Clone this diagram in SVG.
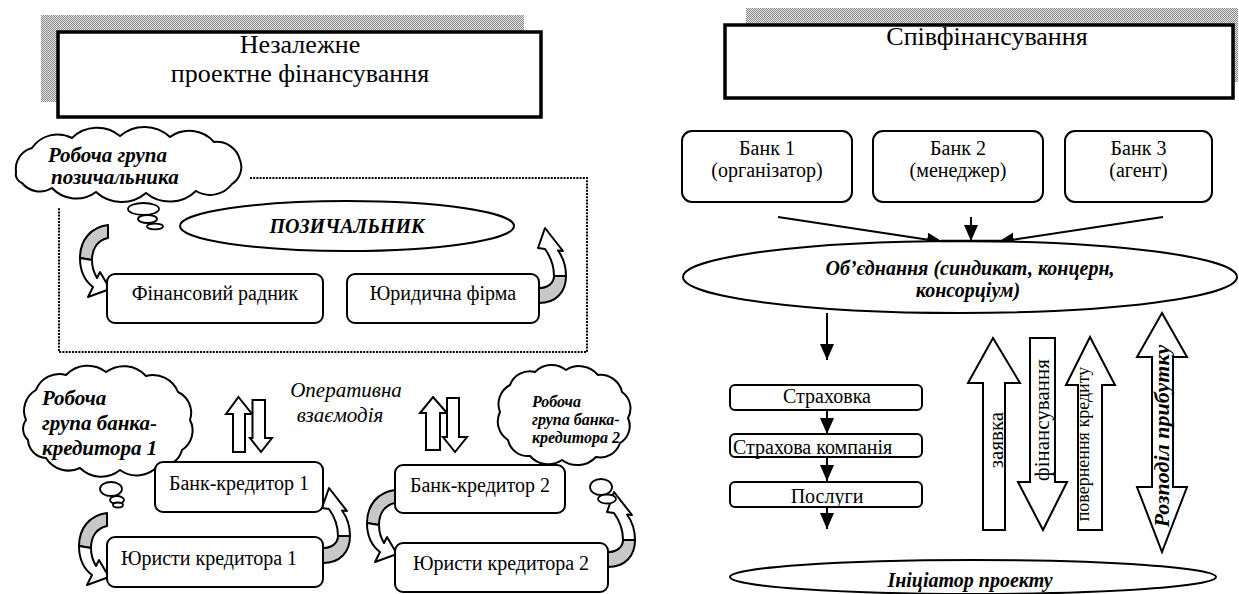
<svg xmlns="http://www.w3.org/2000/svg" width="1239" height="594" viewBox="0 0 1239 594" font-family="'Liberation Serif', 'DejaVu Serif', serif">
<defs>
<pattern id="stip" width="2" height="2" patternUnits="userSpaceOnUse"><rect width="2" height="2" fill="#e2e2e2"/><rect width="1" height="1" fill="#8c8c8c"/><rect x="1" y="1" width="1" height="1" fill="#8c8c8c"/></pattern>
<marker id="ah" viewBox="0 0 16 16" refX="16" refY="8" markerWidth="16" markerHeight="16" markerUnits="userSpaceOnUse" orient="auto"><path d="M0,1 L16,8 L0,15 Z" fill="#000"/></marker>
<g id="curvR">
<path d="M0,0 C-17,2 -28,15 -28,33 L-16,35 C-16,23 -10,15 0,13 Z" fill="#c8c8c8" stroke="#000" stroke-width="2" stroke-linejoin="round"/>
<path d="M-28,33 C-28,46 -23,56 -15,62 L-20,72 L2,64 L-8,47 L-11,53 C-14,48 -16,42 -16,35 Z" fill="#fff" stroke="#000" stroke-width="2" stroke-linejoin="round"/>
</g>
<g id="curvL">
<path d="M0,0 C17,0 27,-11 27,-27 L15,-27 C15,-20 9,-15 0,-15 Z" fill="#c8c8c8" stroke="#000" stroke-width="2" stroke-linejoin="round"/>
<path d="M27,-27 C27,-37 23,-47 19,-52.5 L24,-52 L6,-75 L-1,-55 L6,-54 C11,-47 15,-37 15,-27 Z" fill="#fff" stroke="#000" stroke-width="2" stroke-linejoin="round"/>
</g>
</defs>
<style>
text{font-family:'Liberation Serif','DejaVu Serif',serif;fill:#000}
.hd{font-size:26px}
.n{font-size:20px}
.bi{font-weight:bold;font-style:italic}
.it{font-style:italic}
.bx{fill:#fff;stroke:#000;stroke-width:2}
.hb{fill:#fff;stroke:#000;stroke-width:3.5}
.cl{fill:#fff;stroke:#000;stroke-width:2}
.bub{fill:#fff;stroke:#000;stroke-width:1.8}
.ln{fill:none;stroke:#000;stroke-width:2}
.blk{fill:#fff;stroke:#000;stroke-width:2;stroke-linejoin:miter}
.mid{text-anchor:middle}
</style>
<rect width="1239" height="594" fill="#fff"/>

<g id="header-left">
<rect x="41" y="15" width="483" height="87" fill="url(#stip)"/>
<rect class="hb" x="58" y="32" width="483" height="85"/>
<text class="hd mid" x="300" y="53">Незалежне</text>
<text class="hd mid" x="300" y="82">проектне фінансування</text>
</g>

<g id="header-right">
<rect x="746" y="8" width="492" height="74" fill="url(#stip)"/>
<rect class="hb" x="725" y="25" width="508" height="73"/>
<text class="hd mid" x="987" y="45">Співфінансування</text>
</g>

<g id="borrower-frame">
<path d="M250,178 H587 V352 H59 V207" fill="none" stroke="#000" stroke-width="2" stroke-dasharray="2 1.2"/>
</g>

<g id="connectors">
<use href="#curvR" transform="translate(108,225)"/>
<use href="#curvL" transform="translate(539,303)"/>
<use href="#curvR" transform="translate(107,513)"/>
<use href="#curvL" transform="translate(323,563)"/>
<use href="#curvR" transform="translate(395,490)"/>
<use href="#curvL" transform="translate(608,567)"/>
<polygon class="blk" points="238.5,397 252,414 245,414 245,452 233,452 233,414 226,414"/>
<polygon class="blk" points="252.5,400 265,400 265,438 272,438 261,452 250,438 252.5,438"/>
<polygon class="blk" points="433,397 447,413 440,413 440,450 426,450 426,413 420,413"/>
<polygon class="blk" points="447,398 459,398 459,437 467,437 455,452 443,437 447,437"/>
<line class="ln" x1="778" y1="217" x2="943" y2="242" marker-end="url(#ah)"/>
<line class="ln" x1="971" y1="217" x2="971" y2="241" marker-end="url(#ah)"/>
<line class="ln" x1="1163" y1="217" x2="998" y2="242" marker-end="url(#ah)"/>
<line class="ln" x1="827" y1="313" x2="827" y2="360" marker-end="url(#ah)"/>
<line class="ln" x1="827" y1="410" x2="827" y2="434" marker-end="url(#ah)"/>
<line class="ln" x1="827" y1="457" x2="827" y2="481" marker-end="url(#ah)"/>
<line class="ln" x1="827" y1="507" x2="827" y2="529" marker-end="url(#ah)"/>
<polygon class="blk" points="993,338 1020,383 1005,383 1005,530 983,530 983,383 968,383"/>
<polygon class="blk" points="1030,338 1055,338 1055,482 1067,482 1043,530 1018,482 1030,482"/>
<polygon class="blk" points="1090,337 1115,385 1102,385 1102,530 1078,530 1078,385 1066,385"/>
<polygon class="blk" points="1162,313 1187,357 1173,357 1173,487 1187,487 1162,552 1137,487 1152,487 1152,357 1137,357"/>
<text font-size="21" text-anchor="middle" transform="translate(1003,440) rotate(-90)">заявка</text>
<text font-size="21" text-anchor="middle" transform="translate(1049,420) rotate(-90)">фінансування</text>
<text font-size="18" text-anchor="middle" transform="translate(1089,444) rotate(-90)">повернення кредиту</text>
<text class="bi" font-size="22" text-anchor="middle" transform="translate(1169,436) rotate(-90)">Розподіл прибутку</text>
</g>

<g id="cloud-borrower">
<path class="cl" d="M16,172 A21.6,21.6 0 0 1 32,148 A31,31 0 0 1 72,138 A36,36 0 0 1 120,136 A37.5,37.5 0 0 1 170,137 A33,33 0 0 1 214,142 A24,24 0 0 1 240,160 A20,20 0 0 1 232,184 A27.5,27.5 0 0 1 196,191 A37.5,37.5 0 0 1 146,193 A37.5,37.5 0 0 1 96,192 A33,33 0 0 1 52,188 A23,23 0 0 1 22,183 A9.4,9.4 0 0 1 16,172 Z"/>
<ellipse class="bub" cx="143.5" cy="209" rx="15.5" ry="6"/>
<ellipse class="bub" cx="147.5" cy="219" rx="9.5" ry="4"/>
<ellipse class="bub" cx="155" cy="226.5" rx="8" ry="2.8"/>
<text class="bi" font-size="21" x="48" y="162">Робоча група</text>
<text class="bi" font-size="21" x="51" y="184">позичальника</text>
</g>

<g id="borrower">
<ellipse class="bx" cx="347" cy="226" rx="167" ry="25"/>
<text class="bi n mid" x="347" y="233">ПОЗИЧАЛЬНИК</text>
</g>

<g id="fin-advisor">
<rect class="bx" x="107" y="274" width="216" height="49" rx="8"/>
<text class="n mid" x="215" y="300">Фінансовий радник</text>
</g>

<g id="law-firm">
<rect class="bx" x="347" y="274" width="192" height="49" rx="8"/>
<text class="n mid" x="443" y="300">Юридична фірма</text>
</g>

<g id="cloud-bank1">
<path class="cl" d="M26,420 A23.7,23.7 0 0 1 36,390 A25,25 0 0 1 66,375 A30,30 0 0 1 106,372 A30,30 0 0 1 146,376 A27,27 0 0 1 178,392 A23,23 0 0 1 190,420 A23,23 0 0 1 182,450 A21.6,21.6 0 0 1 158,466 A28.7,28.7 0 0 1 120,470 A30,30 0 0 1 80,468 A26.6,26.6 0 0 1 46,458 A19,19 0 0 1 28,440 A15,15 0 0 1 26,420 Z"/>
<ellipse class="bub" cx="111" cy="489" rx="11" ry="7"/>
<ellipse class="bub" cx="117" cy="500" rx="7" ry="4"/>
<ellipse class="bub" cx="118" cy="505" rx="5" ry="2.5"/>
<text class="bi" font-size="21" x="42" y="405">Робоча</text>
<text class="bi" font-size="21" x="42" y="430">група банка-</text>
<text class="bi" font-size="21" x="42" y="455">кредитора 1</text>
</g>

<g id="interaction-label">
<text class="it mid" font-size="21" x="346" y="397">Оперативна</text>
<text class="it mid" font-size="21" x="340" y="422">взаємодія</text>
</g>

<g id="bank-creditor1">
<rect class="bx" x="155" y="462" width="168" height="50" rx="8"/>
<text class="n mid" x="239" y="490">Банк-кредитор 1</text>
</g>

<g id="lawyers1">
<rect class="bx" x="107" y="537" width="216" height="50" rx="8"/>
<text class="n mid" x="209" y="565">Юристи кредитора 1</text>
</g>

<g id="bank-creditor2">
<rect class="bx" x="395" y="465" width="170" height="48" rx="8"/>
<text class="n mid" x="480" y="492">Банк-кредитор 2</text>
</g>

<g id="lawyers2">
<rect class="bx" x="395" y="543" width="213" height="49" rx="8"/>
<text class="n mid" x="501" y="570">Юристи кредитора 2</text>
</g>

<g id="cloud-bank2">
<path class="cl" d="M500,412 A21.6,21.6 0 0 1 510,385 A21,21 0 0 1 535,372 A23.3,23.3 0 0 1 566,370 A24.3,24.3 0 0 1 598,375 A22,22 0 0 1 622,392 A20,20 0 0 1 628,418 A19.7,19.7 0 0 1 620,443 A20.8,20.8 0 0 1 596,457 A25.6,25.6 0 0 1 562,460 A24.2,24.2 0 0 1 530,456 A20.4,20.4 0 0 1 508,440 A21.8,21.8 0 0 1 500,412 Z"/>
<ellipse class="bub" cx="601" cy="487" rx="11" ry="8"/>
<ellipse class="bub" cx="607" cy="499" rx="9" ry="4.5"/>
<text class="bi" font-size="16" x="532" y="407">Робоча</text>
<text class="bi" font-size="16" x="532" y="425">група банка-</text>
<text class="bi" font-size="16" x="532" y="443">кредитора 2</text>
</g>

<g id="bank1">
<rect class="bx" x="682" y="131" width="170" height="71" rx="10"/>
<text class="n mid" x="767" y="155">Банк 1</text>
<text class="n mid" x="767" y="177">(організатор)</text>
</g>
<g id="bank2">
<rect class="bx" x="873" y="131" width="170" height="71" rx="10"/>
<text class="n mid" x="958" y="155">Банк 2</text>
<text class="n mid" x="958" y="177">(менеджер)</text>
</g>
<g id="bank3">
<rect class="bx" x="1065" y="131" width="147" height="71" rx="10"/>
<text class="n mid" x="1138.5" y="155">Банк 3</text>
<text class="n mid" x="1138.5" y="177">(агент)</text>
</g>

<g id="syndicate">
<ellipse class="bx" cx="960" cy="277" rx="277" ry="36"/>
<line x1="941" y1="241" x2="1007" y2="241" stroke="#000" stroke-width="2.5"/>
<text class="bi n mid" x="970" y="275">Об’єднання (синдикат, концерн,</text>
<text class="bi n mid" x="968" y="297">консорціум)</text>
</g>

<g id="insurance">
<rect class="bx" x="730" y="385" width="192" height="25" rx="5"/>
<text class="n mid" x="827" y="403">Страховка</text>
</g>
<g id="insurance-company">
<rect class="bx" x="730" y="434" width="192" height="23" rx="5"/>
<text class="n" x="733" y="454">Страхова компанія</text>
</g>
<g id="services">
<rect class="bx" x="730" y="482" width="192" height="25" rx="5"/>
<text class="n mid" x="827" y="503">Послуги</text>
</g>

<g id="initiator">
<ellipse class="bx" cx="973" cy="577" rx="243" ry="17"/>
<text class="bi n mid" x="970" y="587">Ініціатор проекту</text>
</g>
</svg>
